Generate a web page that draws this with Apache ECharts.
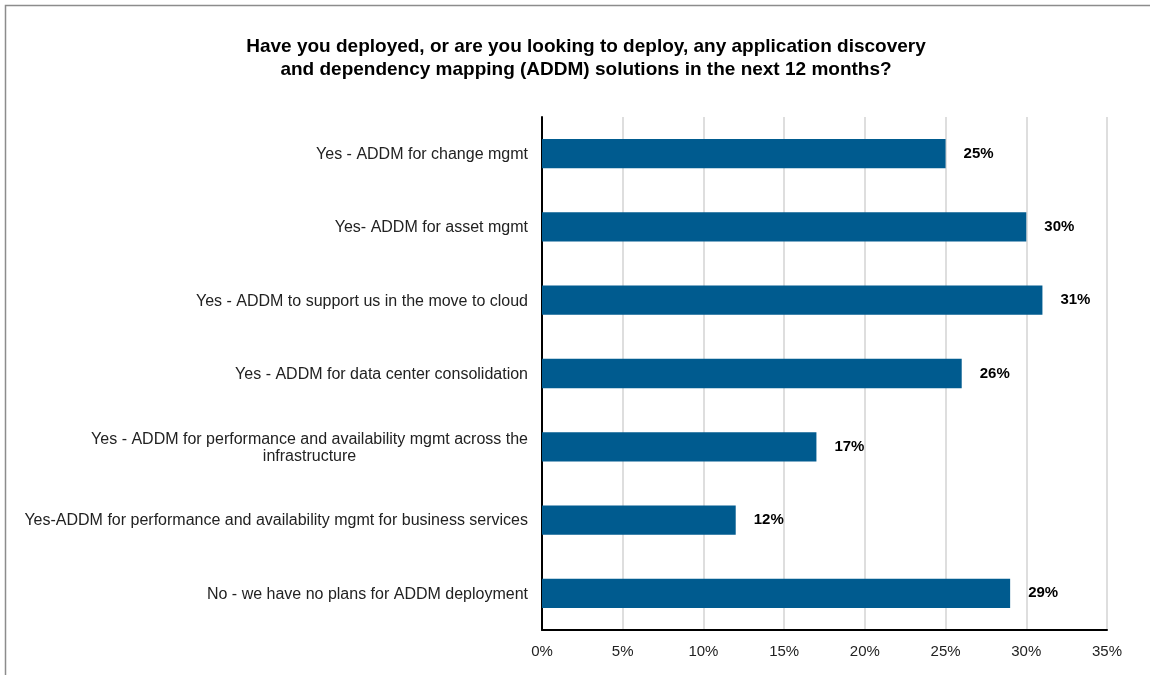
<!DOCTYPE html>
<html><head><meta charset="utf-8">
<script src="https://cdn.jsdelivr.net/npm/echarts@6/dist/echarts.min.js"></script>
<style>html,body{margin:0;padding:0;background:#fff}#c{width:1150px;height:675px}</style>
</head><body><div id="c"></div>
<script>
var categories = [
  "Yes - ADDM for change mgmt",
  "Yes- ADDM for asset mgmt",
  "Yes - ADDM to support us in the move to cloud",
  "Yes - ADDM for data center consolidation",
  "Yes - ADDM for performance and availability mgmt across the infrastructure",
  "Yes-ADDM for performance and availability mgmt for business services",
  "No - we have no plans for ADDM deployment"
];
var values = [25, 30, 31, 26, 17, 12, 29];
var titleText = "Have you deployed, or are you looking to deploy, any application discovery\nand dependency mapping (ADDM) solutions in the next 12 months?";
var FONT = "'Liberation Sans', Arial, sans-serif";
var LABEL_MAX = 512;
var ctx = document.createElement('canvas').getContext('2d');
ctx.font = "16px " + FONT;
function wrapLabel(s) {
  var words = s.split(' '), lines = [], cur = '';
  words.forEach(function (w) {
    var t = cur ? cur + ' ' + w : w;
    if (cur && ctx.measureText(t).width > LABEL_MAX) { lines.push(cur); cur = w; }
    else cur = t;
  });
  lines.push(cur);
  return lines.map(function (l) { return '{c|' + l + '}'; }).join('\n');
}
var chart = echarts.init(document.getElementById('c'));
chart.setOption({
  animation: false,
  backgroundColor: '#fff',
  graphic: [{type:'rect', shape:{x:5.5,y:5.5,width:1200,height:700}, style:{fill:'none',stroke:'#8c8c8c',lineWidth:1.5}, silent:true}],
  title: {text: titleText, left: 581, textAlign: 'center', top: 30,
    textStyle: {fontFamily: FONT, fontSize: 19, fontWeight: 'bold', color: '#000', lineHeight: 23}},
  grid: {left: 542, right: 43, top: 117, bottom: 45, containLabel: false},
  xAxis: {type: 'value', min: 0, max: 35, interval: 5,
    axisLine: {show: true, lineStyle: {color: '#000', width: 2}},
    axisTick: {show: false},
    splitLine: {show: true, lineStyle: {color: '#dedede', width: 2}},
    axisLabel: {formatter: '{value}%', fontFamily: FONT, fontSize: 15, color: '#222', margin: 14}},
  yAxis: {type: 'category', data: categories, inverse: true,
    axisLine: {show: true, lineStyle: {color: '#000', width: 2}},
    axisTick: {show: false},
    axisLabel: {formatter: wrapLabel, margin: 14, align: 'right',
      rich: {c: {fontFamily: FONT, fontSize: 16, color: '#222', lineHeight: 17, align: 'center', padding: [2, 0, 0, 0]}}}},
  series: [{type: 'bar', data: values, barCategoryGap: '60%',
    itemStyle: {color: '#005b8f'},
    label: {show: true, position: 'right', distance: 18, formatter: '{c}%',
      fontFamily: FONT, fontSize: 15, fontWeight: 'bold', color: '#000'}}]
});
</script></body></html>
